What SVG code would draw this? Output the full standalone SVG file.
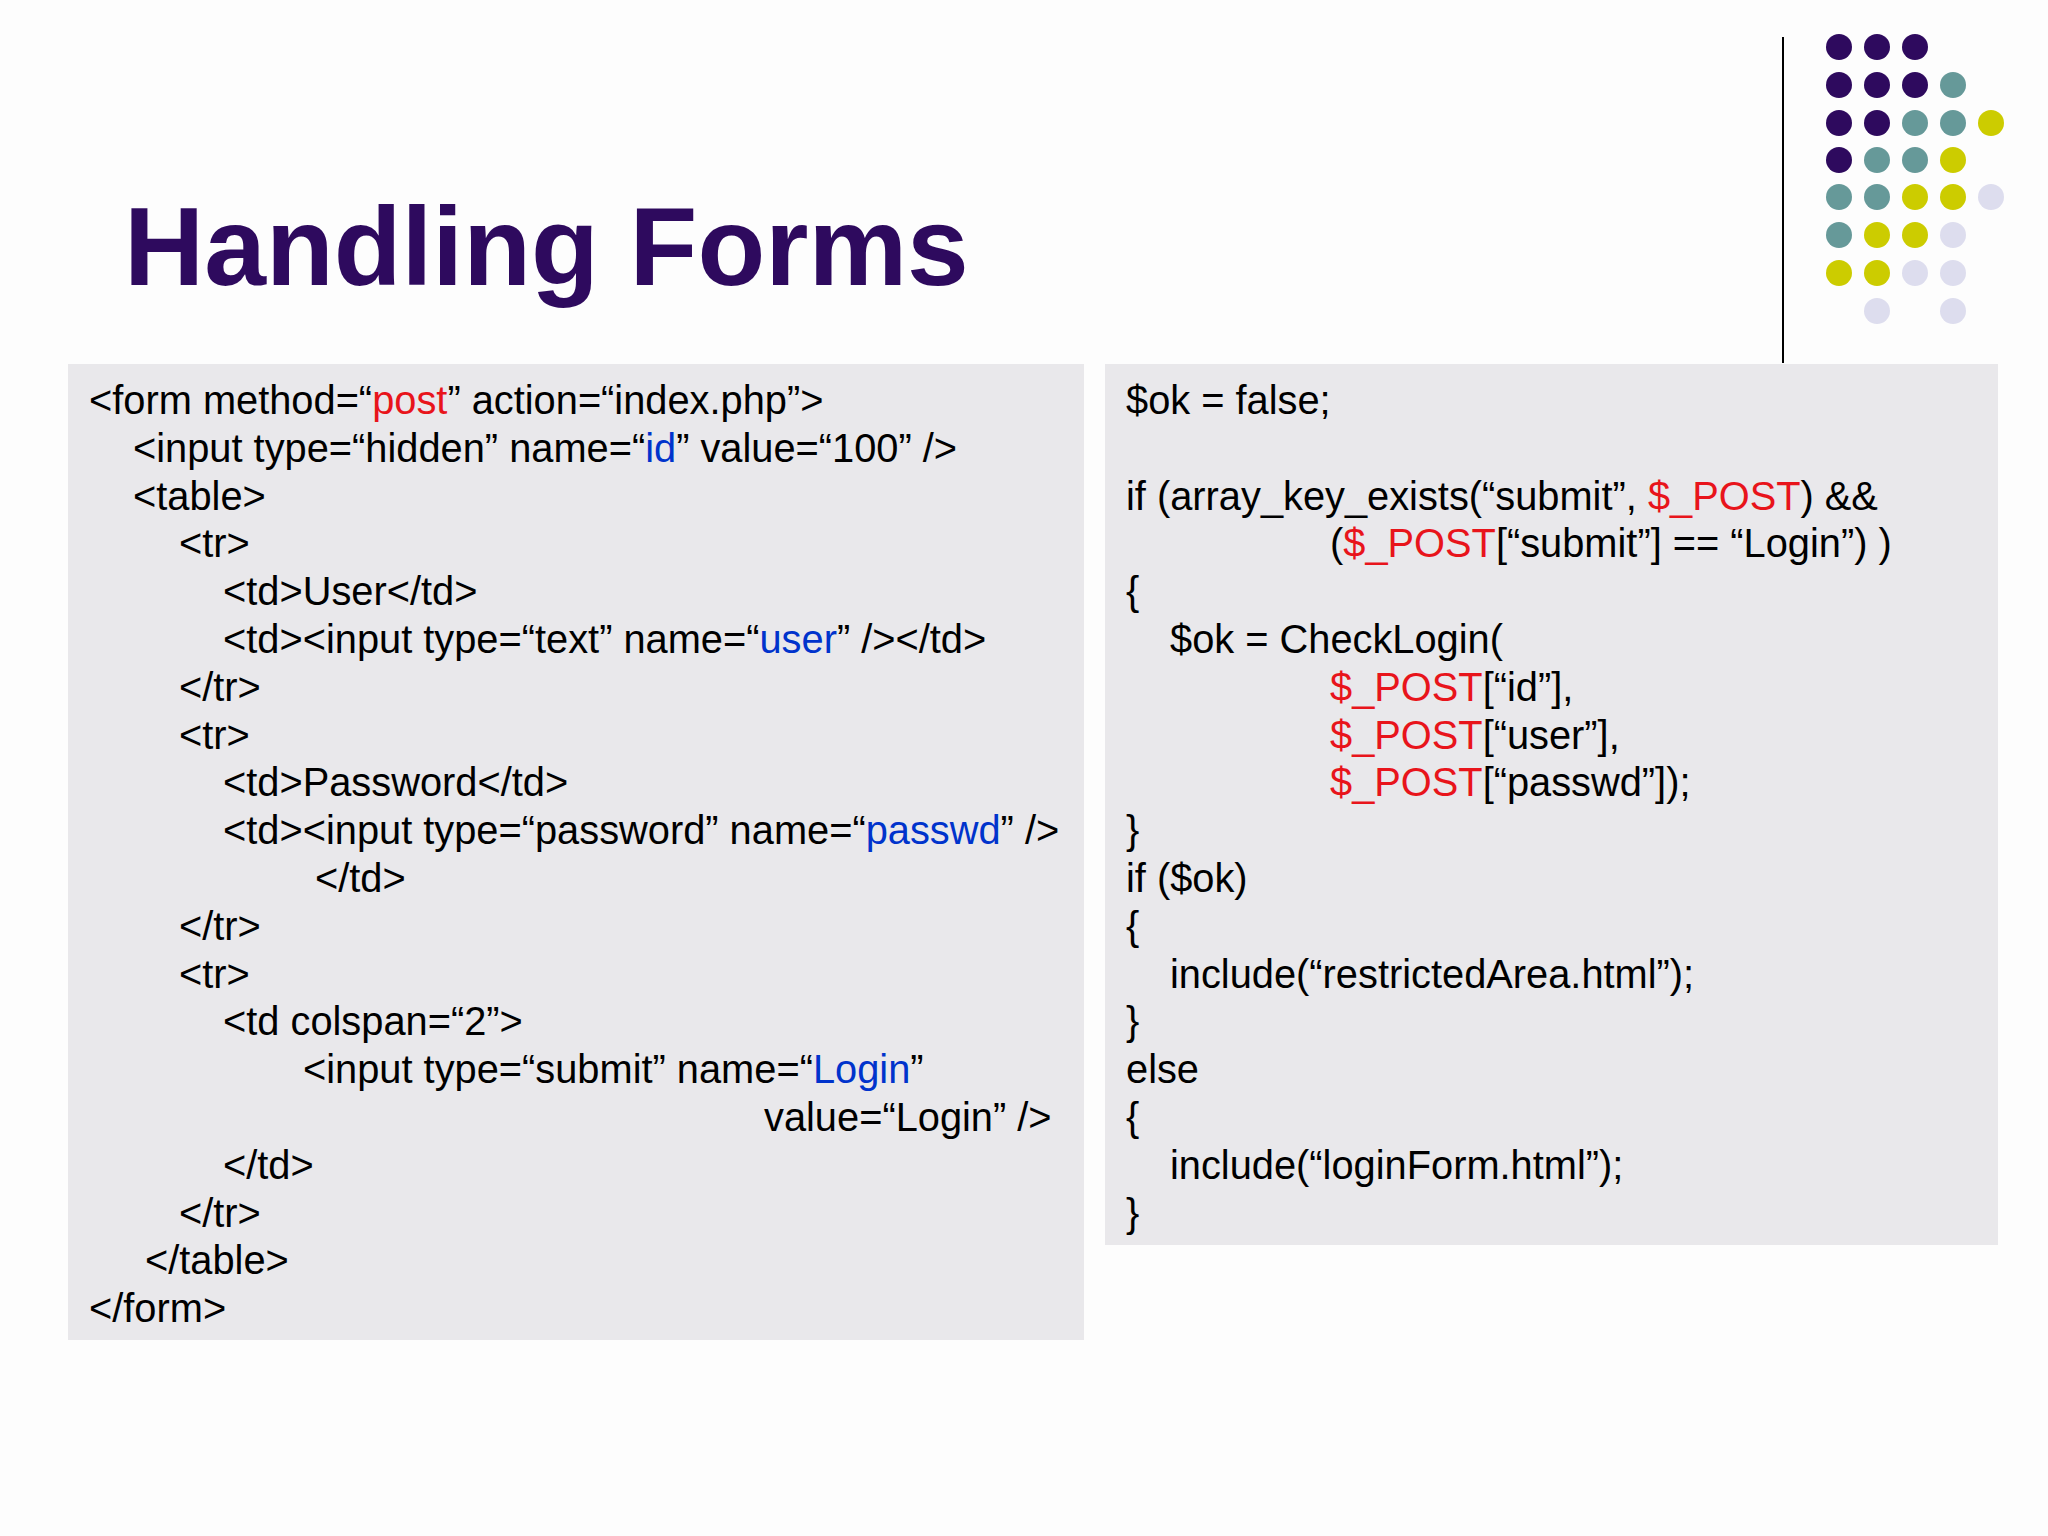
<svg xmlns="http://www.w3.org/2000/svg" width="2048" height="1536" viewBox="0 0 2048 1536">
<style>
.c{font-family:"Liberation Sans",Arial,sans-serif;font-size:39.8px;fill:#000}
.r{fill:#E8141B}.b{fill:#0033CC}
.P{fill:#2E0A5E}.T{fill:#669999}.Y{fill:#CCCC00}.L{fill:#DDDDEE}
.box{fill:#E9E8EB}
</style>
<rect width="2048" height="1536" fill="#FDFDFD"/>
<text x="124" y="285" font-family="Liberation Sans,Arial,sans-serif" font-weight="bold" font-size="111" fill="#2E0A5E">Handling Forms</text>
<line x1="1783" y1="37" x2="1783" y2="363" stroke="#000" stroke-width="2"/>
<g id="dots">
<circle class="P" cx="1839" cy="47" r="13"/><circle class="P" cx="1877" cy="47" r="13"/><circle class="P" cx="1915" cy="47" r="13"/>
<circle class="P" cx="1839" cy="85" r="13"/><circle class="P" cx="1877" cy="85" r="13"/><circle class="P" cx="1915" cy="85" r="13"/><circle class="T" cx="1953" cy="85" r="13"/>
<circle class="P" cx="1839" cy="123" r="13"/><circle class="P" cx="1877" cy="123" r="13"/><circle class="T" cx="1915" cy="123" r="13"/><circle class="T" cx="1953" cy="123" r="13"/><circle class="Y" cx="1991" cy="123" r="13"/>
<circle class="P" cx="1839" cy="160" r="13"/><circle class="T" cx="1877" cy="160" r="13"/><circle class="T" cx="1915" cy="160" r="13"/><circle class="Y" cx="1953" cy="160" r="13"/>
<circle class="T" cx="1839" cy="197" r="13"/><circle class="T" cx="1877" cy="197" r="13"/><circle class="Y" cx="1915" cy="197" r="13"/><circle class="Y" cx="1953" cy="197" r="13"/><circle class="L" cx="1991" cy="197" r="13"/>
<circle class="T" cx="1839" cy="235" r="13"/><circle class="Y" cx="1877" cy="235" r="13"/><circle class="Y" cx="1915" cy="235" r="13"/><circle class="L" cx="1953" cy="235" r="13"/>
<circle class="Y" cx="1839" cy="273" r="13"/><circle class="Y" cx="1877" cy="273" r="13"/><circle class="L" cx="1915" cy="273" r="13"/><circle class="L" cx="1953" cy="273" r="13"/>
<circle class="L" cx="1877" cy="311" r="13"/><circle class="L" cx="1953" cy="311" r="13"/>
</g>
<g id="html-box">
<rect class="box" x="68" y="364" width="1016" height="976"/>
<text class="c" x="89" y="414">&lt;form method=“<tspan class="r">post</tspan>” action=“index.php”&gt;</text>
<text class="c" x="133" y="462">&lt;input type=“hidden” name=“<tspan class="b">id</tspan>” value=“100” /&gt;</text>
<text class="c" x="133" y="510">&lt;table&gt;</text>
<text class="c" x="179" y="557">&lt;tr&gt;</text>
<text class="c" x="223" y="605">&lt;td&gt;User&lt;/td&gt;</text>
<text class="c" x="223" y="653">&lt;td&gt;&lt;input type=“text” name=“<tspan class="b">user</tspan>” /&gt;&lt;/td&gt;</text>
<text class="c" x="179" y="701">&lt;/tr&gt;</text>
<text class="c" x="179" y="749">&lt;tr&gt;</text>
<text class="c" x="223" y="796">&lt;td&gt;Password&lt;/td&gt;</text>
<text class="c" x="223" y="844">&lt;td&gt;&lt;input type=“password” name=“<tspan class="b">passwd</tspan>” /&gt;</text>
<text class="c" x="315" y="892">&lt;/td&gt;</text>
<text class="c" x="179" y="940">&lt;/tr&gt;</text>
<text class="c" x="179" y="988">&lt;tr&gt;</text>
<text class="c" x="223" y="1035">&lt;td colspan=“2”&gt;</text>
<text class="c" x="303" y="1083">&lt;input type=“submit” name=“<tspan class="b">Login</tspan>”</text>
<text class="c" x="764" y="1131">value=“Login” /&gt;</text>
<text class="c" x="223" y="1179">&lt;/td&gt;</text>
<text class="c" x="179" y="1227">&lt;/tr&gt;</text>
<text class="c" x="145" y="1274">&lt;/table&gt;</text>
<text class="c" x="89" y="1322">&lt;/form&gt;</text>
</g>
<g id="php-box">
<rect class="box" x="1105" y="364" width="893" height="881"/>
<text class="c" x="1126" y="414">$ok = false;</text>
<text class="c" x="1126" y="510">if (array_key_exists(“submit”, <tspan class="r">$_POST</tspan>) &amp;&amp;</text>
<text class="c" x="1330" y="557">(<tspan class="r">$_POST</tspan>[“submit”] == “Login”) )</text>
<text class="c" x="1126" y="605">{</text>
<text class="c" x="1170" y="653">$ok = CheckLogin(</text>
<text class="c" x="1330" y="701"><tspan class="r">$_POST</tspan>[“id”],</text>
<text class="c" x="1330" y="749"><tspan class="r">$_POST</tspan>[“user”],</text>
<text class="c" x="1330" y="796"><tspan class="r">$_POST</tspan>[“passwd”]);</text>
<text class="c" x="1126" y="844">}</text>
<text class="c" x="1126" y="892">if ($ok)</text>
<text class="c" x="1126" y="940">{</text>
<text class="c" x="1170" y="988">include(“restrictedArea.html”);</text>
<text class="c" x="1126" y="1035">}</text>
<text class="c" x="1126" y="1083">else</text>
<text class="c" x="1126" y="1131">{</text>
<text class="c" x="1170" y="1179">include(“loginForm.html”);</text>
<text class="c" x="1126" y="1227">}</text>
</g>
</svg>
